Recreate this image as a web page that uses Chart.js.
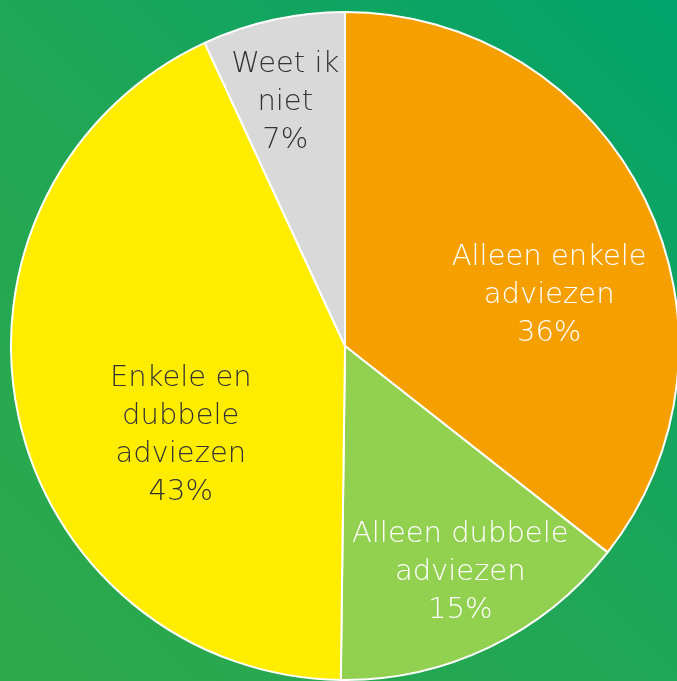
<!DOCTYPE html>
<html>
<head>
<meta charset="utf-8">
<script src="https://cdn.jsdelivr.net/npm/chart.js@4/dist/chart.umd.min.js"></script>
<style>
  html, body { margin: 0; padding: 0; width: 677px; height: 681px; overflow: hidden; }
  body { background: linear-gradient(45deg, #2ea94a 0%, #1fa657 50%, #00a36c 100%); position: relative; }
  #wrap { position: absolute; left: 10px; top: 11px; width: 670px; height: 670px; }
</style>
</head>
<body>
<div id="wrap"><canvas id="pie"></canvas></div>
<script>
// data (start at 12 o'clock, clockwise)
const categories = [['Alleen enkele', 'adviezen'], ['Alleen dubbele', 'adviezen'], ['Enkele en', 'dubbele', 'adviezen'], ['Weet ik', 'niet']];
const shares = [35.6, 14.6, 42.9, 6.9];

const sliceColors = ['#f5a000', '#92d050', '#ffed00', '#d9d9d9'];
const textColors = ['#ffffff', '#ffffff', '#333333', '#333333'];
// label placement: angle (deg clockwise from top) and fraction of radius
const labelAngle = [76, 153, 241.4, 346.2];
const labelDist = [0.63, 0.76, 0.56, 0.75];

const sliceLabels = {
    id: 'sliceLabels',
    afterDatasetsDraw(chart) {
        const ctx = chart.ctx;
        const arcs = chart.getDatasetMeta(0).data;
        ctx.save();
        ctx.font = '200 29px "DejaVu Sans", sans-serif';
        ctx.textAlign = 'center';
        ctx.textBaseline = 'middle';
        arcs.forEach((arc, i) => {
            const { x, y, outerRadius } = arc.getProps(['x', 'y', 'outerRadius'], true);
            const a = labelAngle[i] * Math.PI / 180;
            const r = outerRadius * labelDist[i];
            const cx = x + Math.sin(a) * r;
            const cy = y - Math.cos(a) * r;
            const lines = categories[i].concat([Math.round(shares[i]) + '%']);
            const lh = 38;
            const top = cy - (lines.length - 1) * lh / 2;
            ctx.fillStyle = textColors[i];
            lines.forEach((t, k) => ctx.fillText(t, cx, top + k * lh));
        });
        ctx.restore();
    }
};

new Chart(document.getElementById('pie'), {
    type: 'pie',
    data: {
        labels: categories.map(c => c.join(' ')),
        datasets: [{
            data: shares,
            backgroundColor: sliceColors,
            borderColor: '#ffffff',
            borderWidth: 2
        }]
    },
    options: {
        responsive: true,
        maintainAspectRatio: false,
        animation: false,
        layout: { padding: 0 },
        plugins: { legend: { display: false }, tooltip: { enabled: false } }
    },
    plugins: [sliceLabels]
});
</script>
</body>
</html>
